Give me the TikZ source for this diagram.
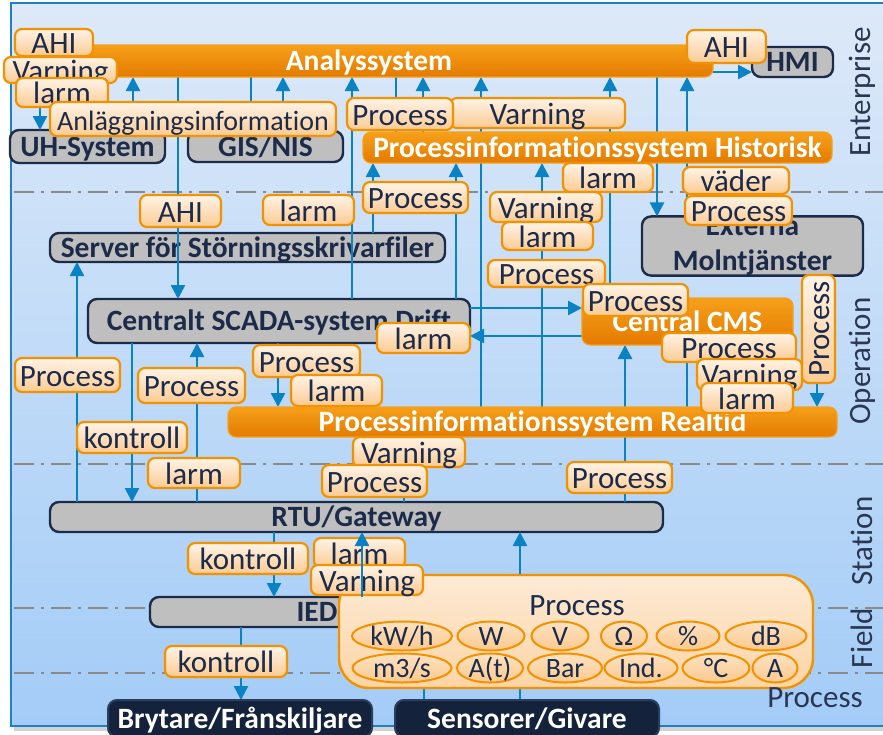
\documentclass[tikz,border=0pt]{standalone}
\usepackage{fontspec}
\setmainfont{Carlito}[Ligatures=NoCommon]
\usetikzlibrary{arrows.meta,shapes.geometric}

\definecolor{navy}{HTML}{1C2B4A}
\definecolor{tierText}{HTML}{2B3752}
\definecolor{lineBlue}{HTML}{0B82C4}
\definecolor{boxgray}{HTML}{BFBFBF}
\definecolor{darkfill}{HTML}{14223B}
\definecolor{darkedge}{HTML}{2C3E5E}
\definecolor{orLine}{HTML}{F39200}
\definecolor{orEdge}{HTML}{F5A11E}
\definecolor{orTop}{HTML}{F6A01A}
\definecolor{orBot}{HTML}{E47A00}
\definecolor{lbTop}{HTML}{FFF3E6}
\definecolor{lbBot}{HTML}{FBCB93}
\definecolor{pnTop}{HTML}{FDEAD5}
\definecolor{pnBot}{HTML}{FCD5A6}
\definecolor{elTop}{HTML}{FDE2C2}
\definecolor{elBot}{HTML}{FBC98E}
\definecolor{bgTop}{HTML}{DDE9F8}
\definecolor{bgBot}{HTML}{A3CCF7}
\definecolor{frameBlue}{HTML}{1F80C4}
\definecolor{sepGray}{HTML}{8A8A8A}

\newcommand\fsL{\fontsize{31}{33}\selectfont}
\newcommand\fsS{\fontsize{28}{30}\selectfont}
\newcommand\fsB{\fontsize{29.5}{33}\selectfont\bfseries}
\newcommand\fsX{\fontsize{29.5}{35}\selectfont\bfseries}
\newcommand\fsE{\fontsize{28}{30}\selectfont}

% box from corner (x1,y1) to corner (x2,y2), y measured downwards
\newcommand\mkbox[7]{%
  \pgfmathsetmacro\mkW{#5-#3}\pgfmathsetmacro\mkH{#6-#4}%
  \pgfmathsetmacro\mkX{(#3+#5)/2}\pgfmathsetmacro\mkY{(#4+#6)/2}%
  \node[#1,minimum width=\mkW pt,minimum height=\mkH pt] (#2) at (\mkX,\mkY) {#7};}

\pgfdeclarelayer{back}
\pgfdeclarelayer{wires}
\pgfdeclarelayer{front}
\pgfsetlayers{back,wires,main,front}

\tikzset{
  gbox/.style={draw=navy, line width=2.4pt, rounded corners=9pt, fill=boxgray,
    text=navy, font=\fsB, inner sep=0pt, outer sep=0pt},
  gtxt/.style={text height=19pt, text depth=0pt},
  dbox/.style={draw=darkedge, line width=2pt, rounded corners=9pt, fill=darkfill,
    text=white, font=\fsB, inner sep=0pt, outer sep=0pt, text height=19pt, text depth=0pt},
  obar/.style={draw=orEdge, line width=1.2pt, rounded corners=8pt, top color=orTop,
    bottom color=orBot, text=white, font=\fsB, inner sep=0pt, outer sep=0pt,
    text height=19pt, text depth=0pt},
  lbl/.style={draw=orLine, line width=2.2pt, rounded corners=7pt, top color=lbTop,
    bottom color=lbBot, text=navy, font=\fsL, inner sep=0pt, outer sep=0pt,
    text height=22pt, text depth=0pt},
  ppanel/.style={draw=orLine, line width=2.4pt, rounded corners=30pt, top color=pnTop,
    bottom color=pnBot, inner sep=0pt, outer sep=0pt},
  unit/.style={ellipse, draw=orLine, line width=2pt, top color=elTop, bottom color=elBot,
    text=navy, font=\fsE, inner sep=0pt, outer sep=0pt, text height=18pt,
    text depth=0pt, minimum height=29pt},
  tier/.style={text=tierText, font=\fsL, inner sep=0pt},
  conn/.style={draw=lineBlue, line width=2.5pt, -{Triangle[length=14pt,width=14pt]}},
  link/.style={draw=lineBlue, line width=2.5pt},
  sep/.style={draw=sepGray, line width=2pt, dash pattern=on 20pt off 7pt on 3pt off 7pt},
}

\begin{document}
\begin{tikzpicture}[x=1pt,y=-1pt]
\useasboundingbox (0,0) rectangle (883,734);

\begin{pgfonlayer}{back}
  % canvas
  \fill[white] (0,0) rectangle (883,734);
  \fill[gray!35] (14,726) rectangle (883,731);
  \fill[top color=bgTop, bottom color=bgBot] (11,3) rectangle (900,726);
  \draw[frameBlue, line width=2.5pt] (11,3) rectangle (900,726);
  % tier separators
  \draw[sep] (14,192) -- (883,192);
  \draw[sep] (14,464) -- (883,464);
  \draw[sep] (14,608) -- (883,608);
  \draw[sep] (14,673) -- (883,673);
  % systems
  \mkbox{gbox,gtxt}{uh}{10}{130}{165}{163}{UH-System}
  \mkbox{gbox,gtxt}{gis}{188}{131}{343}{162}{GIS/NIS}
  \mkbox{gbox,gtxt}{hmi}{752}{47}{833}{77}{HMI}
  \mkbox{gbox,gtxt}{srv}{50}{233}{445}{262}{Server för Störningsskrivarfiler}
  \mkbox{gbox,gtxt}{scada}{88}{299}{470}{343}{Centralt SCADA-system Drift}
  \mkbox{gbox,font=\fsX,align=center}{ext}{642}{217}{863}{275}{Externa\\Molntjänster}
  \mkbox{gbox,gtxt}{rtu}{50}{502}{663}{532}{RTU/Gateway}
  \mkbox{gbox,gtxt}{ied}{150}{597}{484}{627}{IED}
\end{pgfonlayer}

% information systems
\mkbox{obar}{ana}{25}{45}{713}{77}{Analyssystem}
\mkbox{obar}{hist}{363}{132}{832}{163}{Processinformationssystem Historisk}
\mkbox{obar}{cms}{582}{298}{793}{345}{Central CMS}
\mkbox{obar}{rt}{228}{407}{837}{437}{Processinformationssystem Realtid}

% field devices
\mkbox{dbox}{bry}{108}{700}{372}{737}{Brytare/Frånskiljare}
\mkbox{dbox}{sens}{395}{700}{659}{737}{Sensorer/Givare}

% process quantities
\mkbox{ppanel}{proc}{339}{575}{813}{688}{}
\node[text=navy, font=\fsL, inner sep=0pt, text height=22pt, text depth=0pt] (proct) at (577,604) {Process};
\node[unit, minimum width=100pt] (u1) at (402,636) {kW/h};
\node[unit, minimum width=67pt] (u2) at (491,636) {W};
\node[unit, minimum width=57pt] (u3) at (560,636) {V};
\node[unit, minimum width=46pt] (u4) at (624,636) {Ω};
\node[unit, minimum width=63pt] (u5) at (688,636) {\%};
\node[unit, minimum width=81pt] (u6) at (766,636) {dB};
\node[unit, minimum width=99pt] (u7) at (402,668) {m3/s};
\node[unit, minimum width=66pt] (u8) at (490,668) {A(t)};
\node[unit, minimum width=74pt] (u9) at (565,668) {Bar};
\node[unit, minimum width=73pt] (u10) at (641,668) {Ind.};
\node[unit, minimum width=67pt] (u11) at (716,668) {°C};
\node[unit, minimum width=45pt] (u12) at (775,668) {A};

% tier names
\node[tier, rotate=90] (tEnt) at (862,92) {Enterprise};
\node[tier, rotate=90] (tOp) at (862,361) {Operation};
\node[tier, rotate=90] (tSt) at (862,541) {Station};
\node[tier, rotate=90] (tFi) at (862,638) {Field};
\node[tier] (tPr) at (815,698) {Process};

% connectors
\foreach \n in {40,77,132,133,178,197,241,251,274,278,283,352,362,373,396,404,423,424,456,481,520,542,610,625,657,687,817}
  \coordinate (c\n) at (\n,0);
\coordinate (r72) at (0,72);
\coordinate (r308) at (0,308);
\coordinate (r336) at (0,336);

\begin{pgfonlayer}{wires}
  \draw[conn] (ana.south -| c40) -- (uh.north -| c40);
  \draw[conn] (uh.north -| c133) -- (ana.south -| c133);
  \draw[conn] (ana.south -| c178) -- (scada.north -| c178);
  \draw[conn] (ana.south -| c251) -- (gis.north -| c251);
  \draw[conn] (gis.north -| c283) -- (ana.south -| c283);
  \draw[conn] (scada.north -| c352) -- (ana.south -| c352);
  \draw[link] (ana.south -| c396) -- (hist.north -| c396);
  \draw[conn] (hist.north -| c423) -- (ana.south -| c423);
  \draw[conn] (rt.north -| c481) -- (ana.south -| c481);
  \draw[conn] (srv.north -| c373) -- (hist.south -| c373);
  \draw[conn] (scada.north -| c456) -- (hist.south -| c456);
  \draw[conn] (rt.north -| c542) -- (hist.south -| c542);
  \draw[conn] (cms.north -| c610) -- (ana.south -| c610);
  \draw[conn] (ana.south -| c657) -- (ext.north -| c657);
  \draw[conn] (ext.north -| c687) -- (ana.south -| c687);
  \draw[conn] (ana.east |- r72) -- (hmi.west |- r72);
  \draw[conn] (rtu.north -| c77) -- (srv.south -| c77);
  \draw[conn] (scada.south -| c132) -- (rtu.north -| c132);
  \draw[conn] (rtu.north -| c197) -- (scada.south -| c197);
  \draw[conn] (scada.south -| c278) -- (rt.north -| c278);
  \draw[conn] (scada.east |- r308) -- (cms.west |- r308);
  \draw[conn] (cms.west |- r336) -- (scada.east |- r336);
  \draw[conn] (rtu.north -| c625) -- (cms.south -| c625);
  \draw[conn] (rt.north -| c687) -- (cms.south -| c687);
  \draw[conn] (ext.south -| c817) -- (rt.north -| c817);
  \draw[conn] (rtu.north -| c404) -- (rt.south -| c404);
  \draw[conn] (proc.north -| c520) -- (rtu.south -| c520);
  \draw[conn] (rtu.south -| c274) -- (ied.north -| c274);
  \draw[conn] (ied.south -| c241) -- (bry.north -| c241);
  \draw[link] (sens.north -| c424) -- (proc.south -| c424);
  \draw[link] (sens.north -| c520) -- (proc.south -| c520);
\end{pgfonlayer}

% flow labels
\mkbox{lbl}{aAHI}{15}{29}{93}{56}{AHI}
\mkbox{lbl}{aVar}{4}{57}{117}{83}{Varning}
\mkbox{lbl}{aLarm}{16}{78}{108}{107}{larm}
\mkbox{lbl,font=\fsS}{anl}{50}{102}{336}{136}{Anläggningsinformation}
\mkbox{lbl}{hAHI}{687}{30}{766}{63}{AHI}
\mkbox{lbl}{pVar}{450}{98}{625}{128}{Varning}
\mkbox{lbl}{pProc}{347}{98}{453}{130}{Process}
\mkbox{lbl}{hLarm}{563}{163}{653}{192}{larm}
\mkbox{lbl}{vader}{683}{167}{789}{194}{väder}
\mkbox{lbl}{vProc}{685}{196}{792}{225}{Process}
\mkbox{lbl}{sAHI}{140}{195}{221}{227}{AHI}
\mkbox{lbl}{sLarm}{263}{195}{354}{225}{larm}
\mkbox{lbl}{hProc}{363}{182}{468}{213}{Process}
\mkbox{lbl}{mVar}{490}{192}{602}{222}{Varning}
\mkbox{lbl}{mLarm}{502}{222}{593}{250}{larm}
\mkbox{lbl}{mProc}{488}{260}{605}{287}{Process}
\mkbox{lbl}{cProc}{583}{284}{688}{316}{Process}
\mkbox{lbl}{cLarm}{377}{323}{470}{353}{larm}
\mkbox{lbl}{rProc}{662}{333}{796}{362}{Process}
\mkbox{lbl}{rVar}{697}{359}{802}{390}{Varning}
\mkbox{lbl}{rLarm}{701}{383}{793}{413}{larm}
\node[lbl, rotate=90, minimum width=108pt, minimum height=33pt] (eProc) at (818.5,329) {Process};
\mkbox{lbl}{lProc}{15}{358}{120}{392}{Process}
\mkbox{lbl}{kProc}{138}{368}{245}{403}{Process}
\mkbox{lbl}{sProc}{253}{345}{360}{377}{Process}
\mkbox{lbl}{sLarmB}{291}{375}{382}{406}{larm}
\mkbox{lbl}{konA}{77}{422}{187}{453}{kontroll}
\mkbox{lbl}{lLarm}{148}{458}{240}{488}{larm}
\mkbox{lbl}{rtVar}{353}{437}{465}{467}{Varning}
\mkbox{lbl}{rtProc}{322}{465}{427}{497}{Process}
\mkbox{lbl}{cmsProc}{567}{462}{672}{493}{Process}
\mkbox{lbl}{konB}{188}{543}{308}{574}{kontroll}
\mkbox{lbl}{iLarm}{314}{538}{405}{568}{larm}
\mkbox{lbl}{iVar}{311}{565}{423}{595}{Varning}
\mkbox{lbl}{konC}{165}{646}{287}{677}{kontroll}

\begin{pgfonlayer}{front}
  \draw[conn] (ied.north -| c362) -- (rtu.south -| c362);
\end{pgfonlayer}
\end{tikzpicture}
\end{document}
